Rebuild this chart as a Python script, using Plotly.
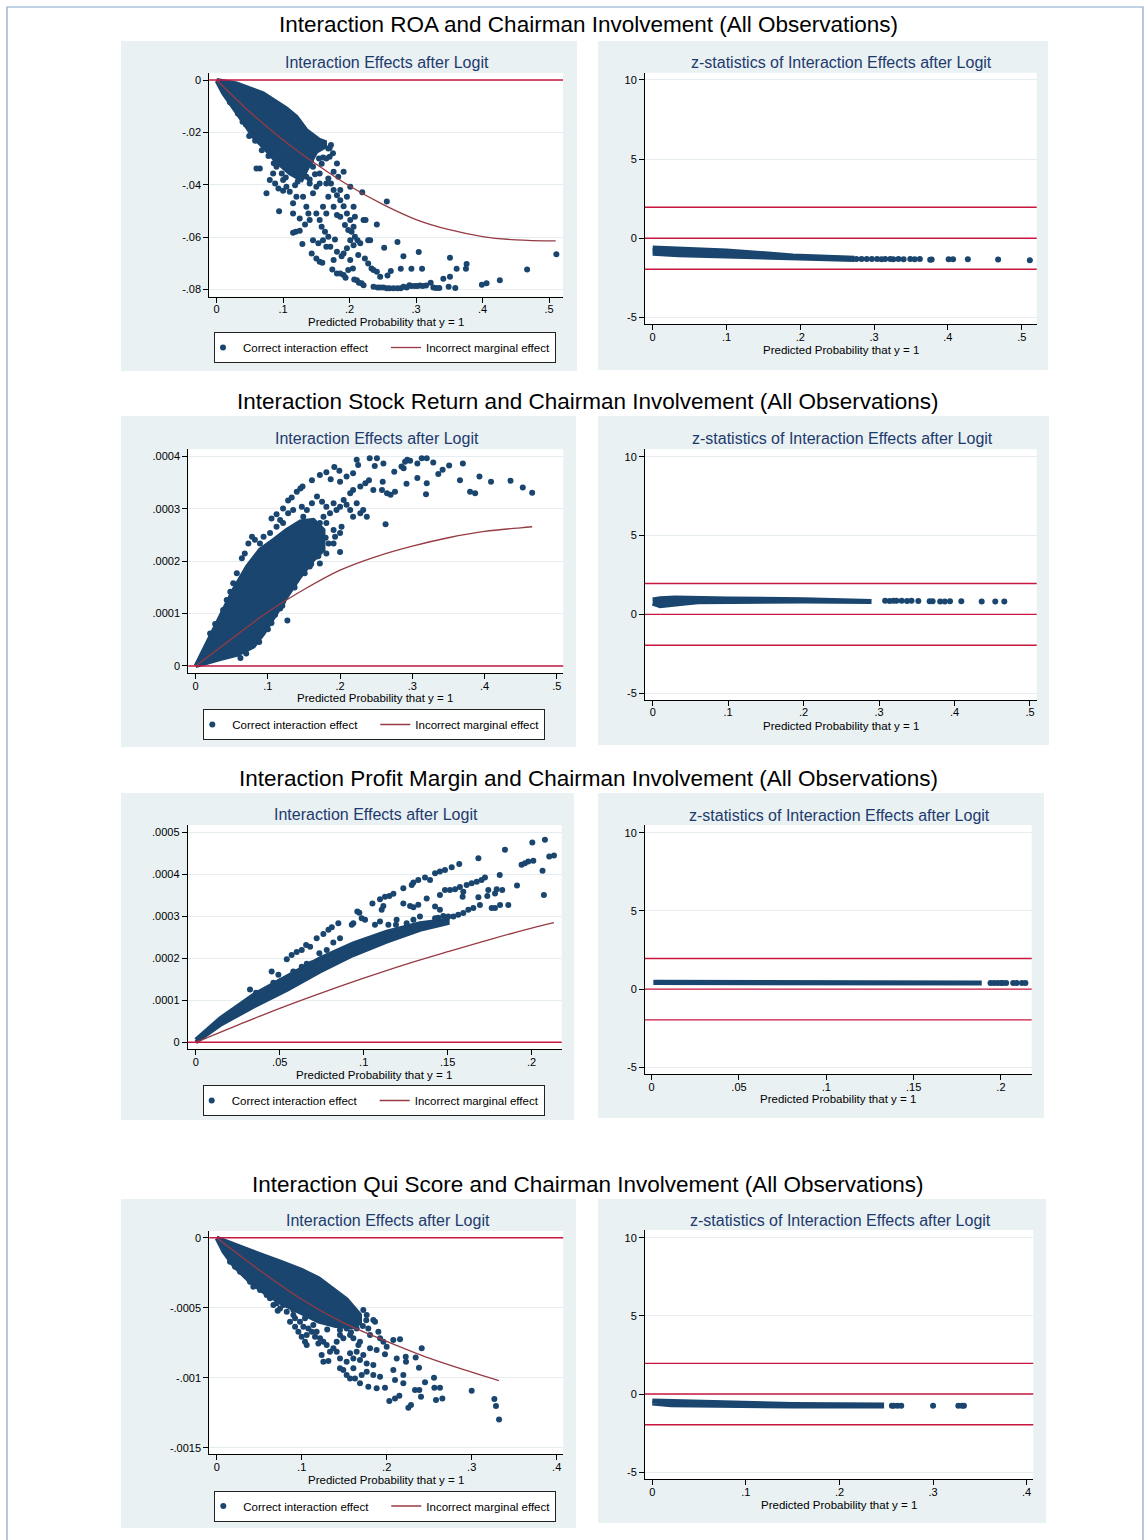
import plotly.graph_objects as go

# ---------------------------------------------------------------- text
ROW_TITLES = [
    "Interaction ROA and Chairman Involvement (All Observations)",
    "Interaction Stock Return and Chairman Involvement (All Observations)",
    "Interaction Profit Margin and Chairman Involvement (All Observations)",
    "Interaction Qui Score and Chairman Involvement (All Observations)",
]
EFFECT_TITLE = "Interaction Effects after Logit"
ZSTAT_TITLE = "z-statistics of Interaction Effects after Logit"
X_TITLE = "Predicted Probability that y = 1"
SERIES_NAMES = ["Correct interaction effect", "Incorrect marginal effect"]

# ---------------------------------------------------------------- ticks
PROB_TICKS_05 = [0, 0.1, 0.2, 0.3, 0.4, 0.5]
PROB_LABELS_05 = ["0", ".1", ".2", ".3", ".4", ".5"]
PROB_TICKS_04 = [0, 0.1, 0.2, 0.3, 0.4]
PROB_LABELS_04 = ["0", ".1", ".2", ".3", ".4"]
PROB_TICKS_02 = [0, 0.05, 0.1, 0.15, 0.2]
PROB_LABELS_02 = ["0", ".05", ".1", ".15", ".2"]

ROA_Y_TICKS = [0, -0.02, -0.04, -0.06, -0.08]
ROA_Y_LABELS = ["0", "-.02", "-.04", "-.06", "-.08"]
RET_Y_TICKS = [0, 0.0001, 0.0002, 0.0003, 0.0004]
RET_Y_LABELS = ["0", ".0001", ".0002", ".0003", ".0004"]
MARGIN_Y_TICKS = [0, 0.0001, 0.0002, 0.0003, 0.0004, 0.0005]
MARGIN_Y_LABELS = ["0", ".0001", ".0002", ".0003", ".0004", ".0005"]
QUI_Y_TICKS = [0, -0.0005, -0.001, -0.0015]
QUI_Y_LABELS = ["0", "-.0005", "-.001", "-.0015"]
Z_TICKS = [-5, 0, 5, 10]
Z_LABELS = ["-5", "0", "5", "10"]

EFFECT_REF = 0                      # reference line of the effect panels
Z_REF = [-1.96, 0, 1.96]            # significance bands of the z panels

# ---------------------------------------------------------------- ROA
ROA_CORE = [(0, 0), (0.030, -0.0013), (0.070, -0.0051), (0.090, -0.0083), (0.105, -0.0108),
            (0.120, -0.0140), (0.135, -0.0191), (0.155, -0.0229), (0.163, -0.0236),
            (0.163, -0.0255), (0.150, -0.0274), (0.135, -0.0344), (0.128, -0.0382),
            (0.110, -0.0357), (0.090, -0.0312), (0.070, -0.0255), (0.055, -0.0217),
            (0.045, -0.0178), (0.025, -0.0102), (0.010, -0.0051), (0, -0.0003)]
ROA_POINTS = [
    (.039, -.0159), (.049, -.0214), (.060, -.0338), (.065, -.0338), (.075, -.0433), (.094, -.0501),
    (.100, -.0423), (.115, -.0584), (.119, -.0580), (.125, -.0576), (.129, -.0627), (.133, -.0552),
    (.143, -.0663), (.150, -.0682), (.155, -.0694), (.159, -.0698), (.145, -.0612), (.153, -.0624),
    (.158, -.0561), (.163, -.0580), (.168, -.0599), (.171, -.0637), (.174, -.0724), (.178, -.0609),
    (.181, -.0656), (.186, -.0739), (.188, -.0673), (.191, -.0745), (.194, -.0756), (.198, -.0726),
    (.201, -.0688), (.205, -.0720), (.207, -.0762), (.211, -.0765), (.214, -.0775), (.218, -.0777),
    (.221, -.0784), (.208, -.0599), (.212, -.0612), (.216, -.0624), (.213, -.0669), (.206, -.0561),
    (.201, -.0535), (.196, -.0510), (.191, -.0482), (.186, -.0459), (.181, -.0440), (.176, -.0420),
    (.172, -.0395), (.168, -.0376), (.186, -.0522), (.193, -.0554), (.198, -.0573), (.203, -.0580),
    (.221, -.0535), (.224, -.0535), (.228, -.0612), (.231, -.0612), (.223, -.0682), (.228, -.0701),
    (.233, -.0720), (.236, -.0726), (.241, -.0733), (.246, -.0752), (.236, -.0790), (.242, -.0793),
    (.246, -.0793), (.251, -.0793), (.256, -.0796), (.260, -.0796), (.266, -.0796), (.272, -.0796),
    (.277, -.0796), (.281, -.0790), (.286, -.0793), (.290, -.0784), (.293, -.0787), (.298, -.0787),
    (.302, -.0787), (.306, -.0785), (.310, -.0787), (.315, -.0785), (.322, -.0775), (.326, -.0793),
    (.330, -.0795), (.335, -.0795), (.341, -.0759), (.349, -.0790), (.351, -.0752), (.359, -.0795),
    (.361, -.0721), (.376, -.0703), (.375, -.0721), (.399, -.0782), (.406, -.0777), (.426, -.0765),
    (.467, -.0724), (.511, -.0666), (.351, -.0679), (.304, -.0657), (.293, -.0721), (.309, -.0721),
    (.281, -.0673), (.277, -.0721), (.272, -.0619), (.262, -.0730), (.257, -.0747), (.252, -.0641),
    (.241, -.0552), (.256, -.0464), (.219, -.0429), (.201, -.0408), (.191, -.0350), (.181, -.0319),
    (.160, -.0296), (.170, -.0293), (.130, -.0446), (.135, -.0484), (.138, -.0510), (.140, -.0535),
    (.150, -.0510), (.155, -.0535), (.160, -.0484), (.165, -.0510), (.176, -.0484), (.181, -.0516),
    (.206, -.0484), (.208, -.0522), (.201, -.0612), (.206, -.0631), (.196, -.0643), (.191, -.0663),
    (.176, -.0688), (.181, -.0739), (.160, -.0612), (.165, -.0637), (.120, -.0446), (.115, -.0471),
    (.110, -.0427), (.105, -.0408), (.100, -.0382), (.098, -.0357), (.090, -.0331), (.085, -.0357),
    (.080, -.0382), (.088, -.0395), (.093, -.0414), (.115, -.0510), (.125, -.0529), (.145, -.0433),
    (.150, -.0408), (.168, -.0446), (.186, -.0420), (.196, -.0446), (.176, -.0350), (.183, -.0370),
    (.155, -.0357), (.145, -.0331), (.135, -.0370), (.128, -.0357), (.165, -.0395), (.155, -.0395),
    (.140, -.0395), (.170, -.0260), (.175, -.0280), (.165, -.0300), (.158, -.0320), (.148, -.0360),
    (.140, -.0380), (.020, -.0085), (.032, -.0128), (.044, -.0170), (.058, -.0232), (.068, -.0268),
    (.078, -.0290), (.086, -.0318), (.104, -.0372), (.118, -.0402), (.122, -.0388), (.142, -.0310),
    (.154, -.0300), (.168, -.0262), (.172, -.0248),
]
ROA_CURVE_X = [0, .025, .05, .1, .15, .2, .25, .3, .35, .4, .45, .51]
ROA_CURVE_Y = [0, -.0062, -.0122, -.0229, -.0322, -.0405, -.0475, -.0533, -.0572, -.0598, -.0611, -.0615]
ROA_Z_CORE = [(0.0, -0.62), (0.035, -0.66), (0.10, -0.80), (0.19, -1.12), (0.27, -1.26),
              (0.27, -1.34), (0.19, -1.25), (0.10, -1.12), (0.035, -1.05), (0.0, -0.95)]
ROA_Z_POINTS = [(.276, -1.31), (.283, -1.32), (.290, -1.31), (.297, -1.32), (.304, -1.31),
                (.310, -1.33), (.315, -1.32), (.322, -1.32), (.326, -1.33), (.333, -1.32),
                (.340, -1.33), (.349, -1.32), (.355, -1.33), (.362, -1.32), (.376, -1.36),
                (.378, -1.35), (.401, -1.33), (.407, -1.33), (.427, -1.33), (.468, -1.34),
                (.511, -1.40)]

# ---------------------------------------------------------------- Stock return
RET_CORE = [(0, 0), (.034, .94e-4), (.052, 1.45e-4), (.071, 1.90e-4), (.089, 2.22e-4),
            (.108, 2.41e-4), (.126, 2.60e-4), (.145, 2.76e-4), (.163, 2.79e-4), (.177, 2.60e-4),
            (.177, 2.22e-4), (.163, 2.03e-4), (.145, 1.71e-4), (.126, 1.32e-4), (.108, .94e-4),
            (.094, .62e-4), (.080, .37e-4), (.057, .21e-4), (.034, .13e-4), (.011, .04e-4), (0, 0)]
RET_POINTS = [
    (.105, 2.82e-4), (.112, 2.90e-4), (.121, 3.01e-4), (.128, 3.16e-4), (.133, 3.22e-4),
    (.140, 3.33e-4), (.145, 3.39e-4), (.148, 3.43e-4), (.161, 3.55e-4), (.172, 3.65e-4),
    (.181, 3.70e-4), (.192, 3.80e-4), (.199, 3.73e-4), (.187, 3.57e-4), (.200, 3.52e-4),
    (.209, 3.62e-4), (.218, 3.68e-4), (.223, 3.94e-4), (.225, 3.84e-4), (.235, 3.49e-4),
    (.241, 3.97e-4), (.251, 3.97e-4), (.248, 3.82e-4), (.260, 3.87e-4), (.240, 3.55e-4),
    (.246, 3.36e-4), (.259, 3.52e-4), (.258, 3.36e-4), (.265, 3.30e-4), (.270, 3.27e-4),
    (.276, 3.33e-4), (.263, 2.71e-4), (.275, 3.71e-4), (.285, 3.81e-4), (.288, 3.78e-4),
    (.290, 3.90e-4), (.293, 3.94e-4), (.297, 3.92e-4), (.292, 3.48e-4), (.307, 3.87e-4),
    (.307, 3.59e-4), (.313, 3.97e-4), (.320, 3.49e-4), (.320, 3.97e-4), (.319, 3.28e-4),
    (.329, 3.89e-4), (.336, 3.67e-4), (.342, 3.75e-4), (.351, 3.83e-4), (.366, 3.55e-4),
    (.370, 3.87e-4), (.380, 3.33e-4), (.387, 3.30e-4), (.393, 3.62e-4), (.409, 3.52e-4),
    (.436, 3.54e-4), (.453, 3.41e-4), (.466, 3.31e-4),
    (.154, 2.98e-4), (.161, 3.11e-4), (.168, 3.24e-4), (.175, 3.14e-4), (.181, 3.04e-4),
    (.186, 2.92e-4), (.191, 3.11e-4), (.195, 2.98e-4), (.200, 3.04e-4), (.205, 3.17e-4),
    (.209, 3.08e-4), (.214, 2.98e-4), (.218, 2.85e-4), (.223, 3.11e-4), (.228, 2.92e-4),
    (.232, 2.98e-4), (.237, 2.85e-4), (.214, 3.30e-4), (.218, 3.36e-4), (.228, 3.43e-4),
    (.191, 2.60e-4), (.181, 2.73e-4), (.177, 2.85e-4), (.172, 2.73e-4), (.193, 2.47e-4),
    (.200, 2.54e-4), (.184, 2.34e-4), (.175, 2.28e-4), (.181, 2.15e-4), (.172, 1.96e-4),
    (.168, 2.09e-4), (.158, 1.90e-4), (.151, 1.77e-4), (.200, 2.18e-4), (.191, 2.34e-4),
    (.202, 2.66e-4), (.147, 1.83e-4), (.135, 1.64e-4), (.126, 1.45e-4), (.117, 1.26e-4),
    (.112, 1.13e-4), (.127, 0.87e-4), (.117, 1.10e-4), (.105, 0.82e-4), (.094, 0.72e-4),
    (.084, 0.50e-4), (.080, 0.40e-4), (.071, 0.34e-4), (.112, 1.07e-4), (.121, 1.23e-4),
    (.140, 1.74e-4), (.149, 1.90e-4), (.145, 2.09e-4), (.126, 1.83e-4), (.135, 1.96e-4),
    (.121, 1.58e-4), (.112, 1.71e-4), (.103, 1.58e-4), (.098, 2.09e-4), (.089, 2.34e-4),
    (.082, 2.41e-4), (.078, 2.47e-4), (.073, 2.34e-4), (.068, 2.15e-4), (.064, 2.06e-4),
    (.057, 1.77e-4), (.052, 1.58e-4), (.048, 1.42e-4), (.043, 1.26e-4), (.038, 1.07e-4),
    (.112, 2.66e-4), (.117, 2.79e-4), (.128, 2.92e-4), (.135, 2.98e-4), (.147, 3.04e-4),
    (.149, 2.85e-4), (.094, 2.47e-4), (.103, 2.54e-4), (.121, 2.73e-4),
    (.020, 0.62e-4), (.027, 0.80e-4), (.062, 0.15e-4), (.070, 0.24e-4), (.088, 0.46e-4),
    (.100, 0.70e-4), (.110, 0.98e-4), (.120, 1.15e-4), (.137, 1.50e-4), (.160, 1.95e-4),
    (.170, 2.10e-4), (.180, 2.45e-4),
]
RET_CURVE_X = [0, .05, .1, .15, .2, .25, .3, .35, .4, .45, .466]
RET_CURVE_Y = [0, .52e-4, 1.03e-4, 1.46e-4, 1.83e-4, 2.09e-4, 2.29e-4, 2.45e-4, 2.57e-4, 2.64e-4, 2.66e-4]
RET_Z_CORE = [(0.0, 0.92), (0.01, 1.0), (0.03, 1.04), (0.06, 1.0), (0.1, 0.98), (0.2, 0.93),
              (0.29, 0.88), (0.29, 0.82), (0.2, 0.85), (0.1, 0.86), (0.06, 0.80), (0.04, 0.70),
              (0.02, 0.55), (0.01, 0.55), (0.0, 0.72)]
RET_Z_POINTS = [(.308, .87), (.314, .85), (.319, .86), (.323, .86), (.330, .86), (.337, .85),
                (.343, .86), (.352, .85), (.367, .84), (.371, .84), (.381, .81), (.387, .82),
                (.394, .84), (.409, .83), (.436, .82), (.454, .82), (.466, .81)]

# ---------------------------------------------------------------- Profit margin
MARGIN_CORE = [(0, .06e-4), (.0145, .57e-4), (.0343, 1.13e-4), (.0542, 1.57e-4), (.074, 2.0e-4),
               (.0938, 2.36e-4), (.1137, 2.64e-4), (.1335, 2.84e-4), (.150, 2.92e-4),
               (.150, 2.84e-4), (.1335, 2.68e-4), (.1137, 2.40e-4), (.0938, 2.08e-4),
               (.074, 1.69e-4), (.0542, 1.25e-4), (.0343, .85e-4), (.0145, .41e-4), (0, 0)]
MARGIN_POINTS = [
    (.0452, 1.69e-4), (.0492, 1.61e-4), (.0542, 1.98e-4), (.0571, 2.08e-4), (.0601, 2.15e-4),
    (.0631, 2.20e-4), (.0657, 2.32e-4), (.0681, 2.28e-4), (.0720, 2.48e-4), (.0760, 2.58e-4),
    (.0790, 2.68e-4), (.0810, 2.74e-4), (.0849, 2.84e-4), (.0929, 2.80e-4), (.0962, 3.12e-4),
    (.0974, 3.09e-4), (.0988, 2.96e-4), (.1008, 2.92e-4), (.1052, 3.31e-4), (.1097, 3.41e-4),
    (.1127, 3.47e-4), (.1153, 3.49e-4), (.1177, 3.54e-4), (.1236, 3.67e-4), (.1286, 3.75e-4),
    (.1296, 3.81e-4), (.1325, 3.87e-4), (.1365, 3.93e-4), (.1395, 3.87e-4), (.1425, 4.03e-4),
    (.1454, 4.07e-4), (.1484, 4.11e-4), (.1524, 4.17e-4), (.1569, 4.25e-4), (.1683, 4.39e-4),
    (.1841, 4.59e-4), (.2004, 4.76e-4), (.2079, 4.83e-4), (.2105, 4.43e-4), (.2133, 4.45e-4),
    (.1940, 4.23e-4), (.1960, 4.27e-4), (.1980, 4.31e-4), (.2010, 4.33e-4), (.1810, 3.99e-4),
    (.1825, 3.63e-4), (.1913, 3.74e-4), (.2065, 4.09e-4), (.2073, 3.51e-4),
    (.1454, 3.51e-4), (.1484, 3.63e-4), (.1514, 3.63e-4), (.1544, 3.65e-4), (.1573, 3.70e-4),
    (.1593, 3.59e-4), (.1613, 3.75e-4), (.1643, 3.79e-4), (.1673, 3.83e-4), (.1702, 3.87e-4),
    (.1722, 3.93e-4), (.1589, 3.47e-4), (.1683, 3.46e-4), (.1742, 3.63e-4), (.1792, 3.65e-4),
    (.1782, 3.55e-4), (.1736, 3.49e-4), (.1812, 3.27e-4), (.1861, 3.27e-4), (.1762, 3.20e-4),
    (.1782, 3.20e-4), (.1692, 3.27e-4), (.1653, 3.20e-4), (.1623, 3.16e-4), (.1593, 3.08e-4),
    (.1563, 3.04e-4), (.1534, 3.00e-4), (.1504, 3.00e-4), (.1474, 3.01e-4), (.1444, 2.97e-4),
    (.1425, 2.96e-4),
    (.1236, 3.31e-4), (.1276, 3.25e-4), (.1296, 3.22e-4), (.1325, 3.28e-4), (.1375, 3.43e-4),
    (.1425, 3.24e-4), (.1454, 3.16e-4), (.1335, 3.00e-4), (.1296, 2.92e-4), (.1256, 2.84e-4),
    (.1107, 3.16e-4), (.1117, 3.25e-4), (.1067, 2.80e-4), (.1097, 2.88e-4), (.1147, 2.80e-4),
    (.1196, 2.92e-4), (.1192, 2.80e-4), (.0938, 2.84e-4), (.0859, 2.48e-4), (.0819, 2.38e-4),
    (.0780, 2.20e-4), (.0736, 2.12e-4), (.0690, 1.88e-4), (.0661, 1.87e-4), (.0631, 1.80e-4),
    (.0581, 1.69e-4), (.0502, 1.45e-4), (.0462, 1.42e-4), (.0323, 1.26e-4), (.0359, 1.18e-4),
]
MARGIN_CURVE_X = [0, .025, .05, .075, .1, .125, .15, .175, .2, .2133]
MARGIN_CURVE_Y = [0, .41e-4, .81e-4, 1.18e-4, 1.53e-4, 1.86e-4, 2.16e-4, 2.45e-4, 2.72e-4, 2.85e-4]
MARGIN_Z_CORE = [(.001, .44), (.1, .43), (.189, .41), (.189, .39), (.1, .40), (.001, .42)]
MARGIN_Z_POINTS = [(.194, .40), (.196, .40), (.198, .40), (.200, .40), (.201, .40),
                   (.203, .40), (.207, .40), (.209, .40), (.212, .40), (.214, .40)]

# ---------------------------------------------------------------- Qui score
QUI_CORE = [(0, 0), (.025, -.6e-4), (.05, -1.15e-4), (.075, -1.7e-4), (.1, -2.3e-4),
            (.12, -2.9e-4), (.1373, -3.7e-4), (.1529, -4.4e-4), (.1608, -4.95e-4),
            (.1686, -5.5e-4), (.1686, -6.1e-4), (.16, -6.4e-4), (.14, -6.3e-4), (.12, -6.0e-4),
            (.1, -5.4e-4), (.08, -4.8e-4), (.06, -4.1e-4), (.04, -3.2e-4), (.02, -2.0e-4),
            (.008, -1.0e-4), (0, -.05e-4)]
QUI_POINTS = [
    (.0314, -2.43e-4), (.0471, -3.38e-4), (.051, -3.74e-4), (.0706, -4.69e-4), (.0718, -5.21e-4),
    (.0784, -4.81e-4), (.0863, -6.0e-4), (.0902, -5.52e-4), (.098, -5.05e-4), (.1039, -5.76e-4),
    (.1059, -6.95e-4), (.1059, -7.67e-4), (.1078, -6.48e-4), (.1137, -6.24e-4), (.1176, -6.71e-4),
    (.1216, -7.19e-4), (.1255, -7.43e-4), (.1294, -7.67e-4), (.1333, -8.14e-4), (.1373, -7.90e-4),
    (.1235, -8.38e-4), (.1255, -8.86e-4), (.1314, -8.81e-4), (.1412, -7.43e-4), (.1451, -6.95e-4),
    (.149, -7.19e-4), (.1529, -6.48e-4), (.1569, -6.95e-4), (.1608, -7.19e-4), (.1647, -6.48e-4),
    (.1667, -7.67e-4), (.1686, -7.43e-4), (.1725, -5.17e-4), (.1765, -5.52e-4), (.1784, -6.48e-4),
    (.1843, -5.88e-4), (.1863, -6.0e-4), (.1804, -6.95e-4), (.1902, -6.71e-4), (.1922, -7.19e-4),
    (.1961, -7.43e-4), (.2, -7.79e-4), (.198, -8.33e-4), (.2078, -7.31e-4), (.2157, -7.26e-4),
    (.2118, -8.62e-4), (.2224, -8.50e-4), (.2227, -8.86e-4), (.2341, -8.55e-4), (.2412, -7.90e-4),
    (.238, -9.29e-4), (.2078, -9.45e-4), (.2196, -9.81e-4), (.2196, -10.40e-4), (.2098, -10.17e-4),
    (.198, -10.71e-4), (.1882, -10.76e-4), (.1784, -10.64e-4), (.1686, -10.40e-4), (.1627, -10.05e-4),
    (.1569, -10.05e-4), (.1529, -9.81e-4), (.149, -9.45e-4), (.1451, -9.33e-4), (.1608, -9.33e-4),
    (.1706, -9.81e-4), (.1765, -9.57e-4), (.1843, -9.81e-4), (.1922, -9.93e-4), (.1843, -9.10e-4),
    (.1765, -8.98e-4), (.1686, -8.74e-4), (.1608, -8.62e-4), (.1529, -8.86e-4), (.1451, -8.62e-4),
    (.1412, -8.14e-4), (.1569, -8.26e-4), (.1647, -8.14e-4), (.1725, -8.38e-4), (.1804, -7.90e-4),
    (.1882, -8.02e-4), (.2031, -11.67e-4), (.2098, -11.48e-4), (.2149, -11.29e-4), (.2255, -12.14e-4),
    (.2286, -11.95e-4), (.2333, -10.88e-4), (.2384, -10.88e-4), (.2404, -11.36e-4), (.2451, -10.33e-4),
    (.2557, -10.0e-4), (.2561, -10.71e-4), (.258, -11.60e-4), (.2627, -10.71e-4), (.2655, -11.48e-4),
    (.30, -10.93e-4), (.3267, -11.52e-4), (.3286, -12.02e-4), (.3322, -12.98e-4), (.1118, -6.71e-4),
    (.1157, -7.07e-4), (.1196, -7.55e-4), (.1039, -7.43e-4), (.1, -7.07e-4), (.0961, -6.71e-4),
    (.0922, -6.36e-4),
    (.0157, -1.71e-4), (.0216, -2.07e-4), (.0275, -2.43e-4), (.0353, -2.67e-4), (.0392, -3.14e-4),
    (.0431, -3.5e-4), (.0549, -3.62e-4), (.0588, -4.1e-4), (.0627, -4.33e-4), (.0667, -4.81e-4),
    (.0745, -5.05e-4), (.0824, -5.29e-4), (.0902, -5.17e-4), (.0922, -5.76e-4), (.098, -6.0e-4),
    (.102, -6.36e-4), (.130, -6.55e-4), (.145, -6.60e-4), (.158, -6.75e-4), (.172, -6.30e-4),
    (.176, -5.90e-4),
]
QUI_CURVE_X = [0, .05, .1, .15, .2, .25, .3, .332]
QUI_CURVE_Y = [0, -2.3e-4, -4.4e-4, -6.1e-4, -7.4e-4, -8.6e-4, -9.6e-4, -10.2e-4]
QUI_Z_CORE = [(.0, -.45), (.02, -.48), (.08, -.58), (.15, -.66), (.245, -.70),
              (.245, -.76), (.15, -.76), (.08, -.74), (.02, -.68), (.0, -.58)]
QUI_Z_POINTS = [(.256, -.74), (.258, -.74), (.262, -.74), (.266, -.74), (.300, -.74),
                (.327, -.74), (.331, -.74), (.333, -.74)]

# ---------------------------------------------------------------- styling
W, H = 1147, 1540
FONT = "Liberation Sans, Arial, Helvetica, sans-serif"
NAVY = "#1a456e"
MAROON = "#963a44"
CRIMSON = "#c8173f"
PANEL_BG = "#e9f1f3"
GRID = "#e6edf0"
TITLE_NAVY = "#1e3a6d"
FRAME = "#86a5cc"

# page layout of every row (pixels): plot box = (left, top, right, bottom)
ROWS = [
    dict(title_y=24,
         data=(ROA_CORE, ROA_POINTS, ROA_CURVE_X, ROA_CURVE_Y, ROA_Z_CORE, ROA_Z_POINTS),
         left=dict(box=(209.3, 73, 563, 296.7), xr=(-0.011, 0.521), yr=(-0.0828, 0.0027),
                   bg=(121, 41, 577, 371), title=(386.7, 62.7), xtitle=(386, 322),
                   legend=(214, 332), xt=(PROB_TICKS_05, PROB_LABELS_05),
                   yt=(ROA_Y_TICKS, ROA_Y_LABELS)),
         right=dict(box=(645, 72.7, 1036.7, 324.3), xr=(-0.0104, 0.5203), yr=(-5.44, 10.46),
                    bg=(598, 41, 1048, 370), title=(841.7, 62.7), xtitle=(841, 350),
                    xt=(PROB_TICKS_05, PROB_LABELS_05))),
    dict(title_y=401,
         data=(RET_CORE, RET_POINTS, RET_CURVE_X, RET_CURVE_Y, RET_Z_CORE, RET_Z_POINTS),
         left=dict(box=(188.3, 449.3, 563.3, 673.3), xr=(-0.0102, 0.5091), yr=(-0.000014, 0.000414),
                   bg=(121, 416, 576, 747), title=(377.2, 439), xtitle=(375, 698),
                   legend=(203.3, 709), xt=(PROB_TICKS_05, PROB_LABELS_05),
                   yt=(RET_Y_TICKS, RET_Y_LABELS)),
         right=dict(box=(645, 449.3, 1036.7, 700), xr=(-0.0102, 0.5089), yr=(-5.43, 10.47),
                    bg=(598, 416, 1049, 745), title=(842.5, 439), xtitle=(840.5, 726),
                    xt=(PROB_TICKS_05, PROB_LABELS_05))),
    dict(title_y=778,
         data=(MARGIN_CORE, MARGIN_POINTS, MARGIN_CURVE_X, MARGIN_CURVE_Y, MARGIN_Z_CORE, MARGIN_Z_POINTS),
         left=dict(box=(187.7, 825, 561.7, 1049.3), xr=(-0.0048, 0.2179), yr=(-0.0000167, 0.000518),
                   bg=(121, 793, 574, 1120), title=(375.8, 814.3), xtitle=(374.2, 1075),
                   legend=(202.7, 1085), xt=(PROB_TICKS_02, PROB_LABELS_02),
                   yt=(MARGIN_Y_TICKS, MARGIN_Y_LABELS)),
         right=dict(box=(645, 825, 1031.7, 1074.3), xr=(-0.0038, 0.2176), yr=(-5.44, 10.49),
                    bg=(598, 793, 1044, 1118), title=(839.7, 815), xtitle=(837.5, 1099.3),
                    xt=(PROB_TICKS_02, PROB_LABELS_02))),
    dict(title_y=1184,
         data=(QUI_CORE, QUI_POINTS, QUI_CURVE_X, QUI_CURVE_Y, QUI_Z_CORE, QUI_Z_POINTS),
         left=dict(box=(209.3, 1231, 563.3, 1454.3), xr=(-0.0087, 0.4078), yr=(-0.001547, 0.0000479),
                   bg=(121, 1199, 576, 1528), title=(387.5, 1220.7), xtitle=(385.8, 1480),
                   legend=(214.3, 1490.5), xt=(PROB_TICKS_04, PROB_LABELS_04),
                   yt=(QUI_Y_TICKS, QUI_Y_LABELS)),
         right=dict(box=(645, 1230, 1033.3, 1479.3), xr=(-0.0078, 0.4071), yr=(-5.45, 10.49),
                    bg=(598, 1199, 1046, 1523), title=(840.5, 1220), xtitle=(838.7, 1505.3),
                    xt=(PROB_TICKS_04, PROB_LABELS_04))),
]


def px(v):
    return v / W


def py(v):
    return 1 - v / H


def unzip(pairs):
    return [p[0] for p in pairs], [p[1] for p in pairs]


fig = go.Figure()
layout = dict(width=W, height=H, margin=dict(l=0, r=0, t=0, b=0),
              paper_bgcolor="white", plot_bgcolor="rgba(0,0,0,0)",
              font=dict(family=FONT, color="black"), showlegend=True)
shapes = [dict(type="rect", xref="paper", yref="paper", x0=px(7), x1=px(1143), y0=py(1560), y1=py(7),
               line=dict(color=FRAME, width=1.2), fillcolor="rgba(0,0,0,0)", layer="below")]
annotations = []


def add_axes(n, spec, yticks):
    l, t, r, b = spec["box"]
    xkey = "xaxis" if n == 1 else f"xaxis{n}"
    ykey = "yaxis" if n == 1 else f"yaxis{n}"
    common = dict(ticks="outside", ticklen=5, tickwidth=1, tickcolor="black", showline=True,
                  linecolor="black", linewidth=1, zeroline=False, mirror=False,
                  tickfont=dict(family=FONT, size=11, color="black"), tickmode="array")
    layout[xkey] = dict(common, domain=[px(l), px(r)], range=list(spec["xr"]),
                        anchor=f"y{n}" if n > 1 else "y", showgrid=False,
                        tickvals=spec["xt"][0], ticktext=spec["xt"][1], ticklabelstandoff=-3)
    layout[ykey] = dict(common, domain=[py(b), py(t)], range=list(spec["yr"]),
                        anchor=f"x{n}" if n > 1 else "x", showgrid=True, gridcolor=GRID,
                        gridwidth=1, tickvals=yticks[0], ticktext=yticks[1], tickangle=0)
    # panel background and white plot region
    bl, bt, br, bb = spec["bg"]
    shapes.append(dict(type="rect", xref="paper", yref="paper", x0=px(bl), x1=px(br),
                       y0=py(bb), y1=py(bt), line=dict(width=0), fillcolor=PANEL_BG, layer="below"))
    shapes.append(dict(type="rect", xref="paper", yref="paper", x0=px(l), x1=px(r),
                       y0=py(b), y1=py(t), line=dict(width=0), fillcolor="white", layer="below"))


for r, row in enumerate(ROWS):
    core, points, cx, cy, zcore, zpoints = row["data"]
    nl, nr = 2 * r + 1, 2 * r + 2
    xl = "x" if nl == 1 else f"x{nl}"
    yl = "y" if nl == 1 else f"y{nl}"
    xr_, yr_ = f"x{nr}", f"y{nr}"
    leg = "legend" if r == 0 else f"legend{r + 1}"

    add_axes(nl, row["left"], row["left"]["yt"])
    add_axes(nr, row["right"], (Z_TICKS, Z_LABELS))

    # effect panel: dense core, scattered observations, marginal-effect curve
    kx, ky = unzip(core)
    fig.add_trace(go.Scatter(x=kx, y=ky, xaxis=xl, yaxis=yl, mode="lines", fill="toself",
                             fillcolor=NAVY, line=dict(color=NAVY, width=4),
                             hoverinfo="skip", showlegend=False))
    sx, sy = unzip(points)
    fig.add_trace(go.Scatter(x=sx, y=sy, xaxis=xl, yaxis=yl, mode="markers",
                             marker=dict(color=NAVY, size=6, line=dict(width=0)),
                             name=SERIES_NAMES[0], legend=leg, showlegend=True,
                             legendwidth=150))
    fig.add_trace(go.Scatter(x=cx, y=cy, xaxis=xl, yaxis=yl, mode="lines",
                             line=dict(color=MAROON, width=1.3, shape="spline"),
                             name=SERIES_NAMES[1], legend=leg, showlegend=True))
    shapes.append(dict(type="line", xref=f"{xl} domain", yref=yl, x0=0, x1=1,
                       y0=EFFECT_REF, y1=EFFECT_REF, line=dict(color=CRIMSON, width=1.4)))

    # z-statistic panel
    zx, zy = unzip(zcore)
    fig.add_trace(go.Scatter(x=zx, y=zy, xaxis=xr_, yaxis=yr_, mode="lines", fill="toself",
                             fillcolor=NAVY, line=dict(color=NAVY, width=5),
                             hoverinfo="skip", showlegend=False))
    px_, py_ = unzip(zpoints)
    fig.add_trace(go.Scatter(x=px_, y=py_, xaxis=xr_, yaxis=yr_, mode="markers",
                             marker=dict(color=NAVY, size=6, line=dict(width=0)),
                             showlegend=False))
    for v in Z_REF:
        shapes.append(dict(type="line", xref=f"{xr_} domain", yref=yr_, x0=0, x1=1,
                           y0=v, y1=v, line=dict(color=CRIMSON, width=1.4)))

    # legend box
    lx, ly = row["left"]["legend"]
    layout[leg] = dict(x=px(lx), y=py(ly), xanchor="left", yanchor="top", orientation="h",
                       bgcolor="white", bordercolor="#222222", borderwidth=1,
                       font=dict(family=FONT, size=11.5, color="black"), indentation=-12,
                       itemclick=False, itemdoubleclick=False, traceorder="normal")

    # titles
    annotations.append(dict(text=ROW_TITLES[r], x=px(588), y=py(row["title_y"]), xref="paper",
                            yref="paper", showarrow=False, xanchor="center", yanchor="middle",
                            font=dict(family=FONT, size=22.5, color="black")))
    for spec, text in ((row["left"], EFFECT_TITLE), (row["right"], ZSTAT_TITLE)):
        tx, ty = spec["title"]
        annotations.append(dict(text=text, x=px(tx), y=py(ty), xref="paper", yref="paper",
                                showarrow=False, xanchor="center", yanchor="middle",
                                font=dict(family=FONT, size=16, color=TITLE_NAVY)))
        ax, ay = spec["xtitle"]
        annotations.append(dict(text=X_TITLE, x=px(ax), y=py(ay), xref="paper", yref="paper",
                                showarrow=False, xanchor="center", yanchor="middle",
                                font=dict(family=FONT, size=11.5, color="black")))

layout["shapes"] = shapes
layout["annotations"] = annotations
fig.update_layout(**layout)
fig.write_html("out.html")
